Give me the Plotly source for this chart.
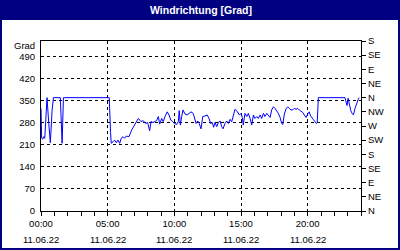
import plotly.graph_objects as go

# ---- data ----
minutes = [0, 3, 8, 12, 17, 23, 27, 35, 42, 50, 56, 87, 95, 101, 307, 313, 316, 324, 331, 339,
           346, 354, 361, 369, 376, 384, 391,
           396, 408, 423, 438, 450, 460, 471, 480, 489, 495, 504, 513, 520, 528, 534, 543, 550,
           558, 568, 576, 584, 593, 600, 611, 618, 622, 627, 633, 639, 648, 657, 666, 675, 685,
           693, 698, 705, 712, 720, 728, 738, 748, 756, 763, 771, 777, 783, 791, 798, 806, 813,
           819, 828, 836, 843, 851, 858, 866, 873, 884, 893, 900, 906,
           910, 918, 926, 933, 941, 948, 956, 963, 971, 978, 986, 993, 1001, 1008, 1016, 1023,
           1031, 1038, 1046, 1053, 1061, 1068, 1076, 1083, 1088, 1095, 1103, 1110, 1117, 1125,
           1133, 1140, 1148, 1155, 1162, 1170, 1178, 1185, 1193, 1200, 1207, 1213, 1220, 1225,
           1233, 1239, 1243, 1248, 1368, 1373, 1377, 1382, 1387, 1394, 1400, 1406, 1413, 1421,
           1428, 1432]
direction = [326, 231, 228, 236, 231, 289, 360, 278, 217, 321, 360, 360, 215, 360, 360, 250, 215,
             220, 225, 217, 225, 215, 231, 236, 231, 238, 236,
             236, 257, 278, 294, 284, 287, 278, 281, 255, 284, 281, 284, 287, 300, 276, 294, 284,
             300, 315, 305, 289, 284, 278, 275, 284, 319, 273, 300, 321, 308, 305, 310, 315, 310,
             291, 278, 286, 278, 261, 300, 302, 305, 294, 278, 281, 266, 281, 268, 281, 286, 268,
             261, 278, 286, 278, 291, 283, 305, 323, 315, 305, 310, 297,
             273, 310, 300, 310, 294, 273, 305, 294, 300, 294, 305, 294, 310, 300, 310, 305,
             297, 321, 331, 326, 319, 310, 297, 278, 275, 308, 325, 331, 326, 321,
             321, 326, 323, 326, 321, 318, 313, 305, 297, 308, 315, 302, 294, 291,
             284, 278, 281, 360, 360, 349, 335, 358, 336, 319, 310, 305, 326, 346,
             356, 360]

x_tick_hours = [0, 5, 10, 15, 20]
x_tick_times = ["00:00", "05:00", "10:00", "15:00", "20:00"]
x_tick_dates = ["11.06.22", "11.06.22", "11.06.22", "11.06.22", "11.06.22"]
y_ticks = [0, 70, 140, 210, 280, 350, 420, 490]
compass_vals = [0, 45, 90, 135, 180, 225, 270, 315, 360, 405, 450, 495, 540]
compass_text = ["N", "NE", "E", "SE", "S", "SW", "W", "NW", "N", "NE", "E", "SE", "S"]

# ---- layout geometry (pixels) ----
W, H = 400, 250
ML, MR, MT, MB = 41, 39, 41, 39
PW, PH = W - ML - MR, H - MT - MB


def px_x(p):
    return (p - ML) / PW


def px_y(p):
    return (H - MB - p) / PH


FONT = "Liberation Sans"
NAVY = "#000080"

hours = [m / 60 for m in minutes]

fig = go.Figure()
fig.add_trace(go.Scatter(x=hours, y=direction, mode="lines",
                         line=dict(color="#0000FF", width=1),
                         showlegend=False, hoverinfo="skip"))
fig.add_trace(go.Scatter(x=[0], y=[0], yaxis="y2", mode="markers",
                         marker=dict(opacity=0), showlegend=False, hoverinfo="skip"))

fig.update_layout(
    width=W, height=H, autosize=False,
    margin=dict(l=ML, r=MR, t=MT, b=MB, pad=0),
    paper_bgcolor="white", plot_bgcolor="white",
    font=dict(family=FONT, size=9.5, color="#000000"),
    title=dict(text="<b>Windrichtung [Grad]</b>", x=0.5, xanchor="center",
               xref="paper", y=1 - 10.5 / H, yref="container", yanchor="middle",
               font=dict(family=FONT, size=10.5, color="white")),
    xaxis=dict(range=[0, 24], tickvals=x_tick_hours, ticktext=x_tick_times,
               showline=True, linecolor="black", linewidth=1, mirror=True,
               ticks="outside", ticklen=4, tickcolor="black", tickwidth=1,
               showgrid=True, gridcolor="black", gridwidth=1, griddash="3px,3px",
               zeroline=False, fixedrange=True,
               minor=dict(dtick=1, tick0=0, ticks="outside", ticklen=4,
                          tickcolor="black", showgrid=False),
               tickfont=dict(family=FONT, size=9.5, color="#000000")),
    yaxis=dict(range=[0, 540], tickvals=y_ticks, ticktext=[str(v) for v in y_ticks],
               showline=True, linecolor="black", linewidth=1, mirror=True,
               ticks="outside", ticklen=3, tickcolor="rgba(0,0,0,0)",
               showgrid=True, gridcolor="black", gridwidth=1, griddash="3px,3px",
               zeroline=False, fixedrange=True,
               tickfont=dict(family=FONT, size=9.5, color="#000000")),
    yaxis2=dict(range=[0, 540], overlaying="y", side="right",
                tickvals=compass_vals, ticktext=compass_text,
                ticks="outside", ticklen=4, tickcolor="black", tickwidth=1,
                showline=False, showgrid=False, zeroline=False, fixedrange=True,
                tickfont=dict(family=FONT, size=9.5, color="#000000")),
)

shapes = [
    dict(type="rect", xref="paper", yref="paper",
         x0=px_x(0), x1=px_x(W), y0=px_y(20), y1=px_y(0),
         fillcolor=NAVY, line=dict(width=0), layer="below"),
    dict(type="rect", xref="paper", yref="paper",
         x0=px_x(0), x1=px_x(W), y0=px_y(H), y1=px_y(0),
         fillcolor="rgba(0,0,0,0)", line=dict(color=NAVY, width=4), layer="above"),
]
fig.update_layout(shapes=shapes)

annotations = [dict(text="Grad", xref="paper", yref="paper", x=0, y=px_y(45),
                    xanchor="right", yanchor="middle", xshift=-4, showarrow=False,
                    font=dict(family=FONT, size=9.5, color="#000000"))]
for h, d in zip(x_tick_hours, x_tick_dates):
    annotations.append(dict(text=d, xref="x", yref="paper", x=h, y=px_y(239),
                            xanchor="center", yanchor="middle", showarrow=False,
                            font=dict(family=FONT, size=9.5, color="#000000")))
fig.update_layout(annotations=annotations)

fig.write_html("out.html")
